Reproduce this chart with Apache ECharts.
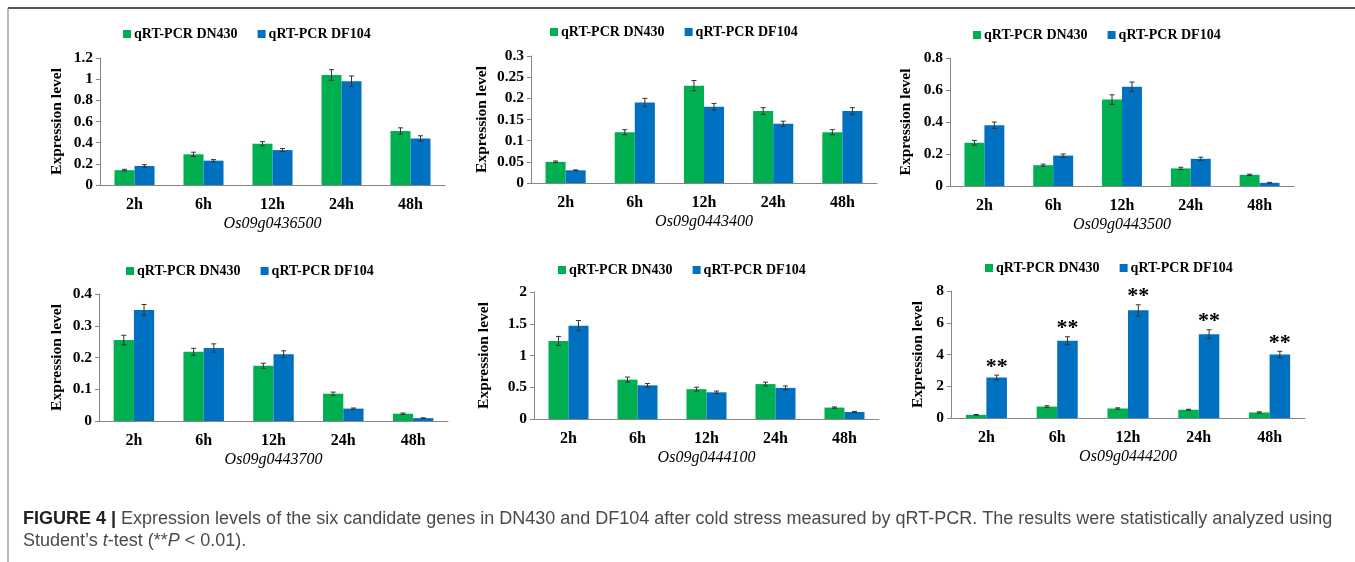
<!DOCTYPE html>
<html>
<head>
<meta charset="utf-8">
<script src="https://cdn.jsdelivr.net/npm/echarts@6/dist/echarts.min.js"></script>
<style>
  html, body { margin: 0; padding: 0; background: #fff; }
  #chart { width: 1355px; height: 562px; }
</style>
</head>
<body>
<div id="chart"></div>
<script>
// categories
const hours = ['2h', '6h', '12h', '24h', '48h'];
const genes = ['Os09g0436500', 'Os09g0443400', 'Os09g0443500', 'Os09g0443700', 'Os09g0444100', 'Os09g0444200'];
const seriesNames = ['qRT-PCR DN430', 'qRT-PCR DF104'];

// mean expression level, one row per gene
const dn430 = [
  [0.14, 0.29, 0.39, 1.04, 0.51],
  [0.05, 0.12, 0.23, 0.17, 0.12],
  [0.27, 0.13, 0.54, 0.11, 0.07],
  [0.255, 0.218, 0.174, 0.086, 0.023],
  [1.23, 0.62, 0.47, 0.55, 0.18],
  [0.2, 0.72, 0.6, 0.52, 0.35]
];
const df104 = [
  [0.18, 0.23, 0.33, 0.98, 0.44],
  [0.03, 0.19, 0.18, 0.14, 0.17],
  [0.38, 0.19, 0.62, 0.17, 0.02],
  [0.35, 0.23, 0.21, 0.039, 0.009],
  [1.47, 0.53, 0.42, 0.49, 0.11],
  [2.55, 4.87, 6.78, 5.28, 4.0]
];
// error bars (+/-)
const dn430Err = [
  [0.008, 0.02, 0.02, 0.05, 0.03],
  [0.002, 0.006, 0.012, 0.008, 0.006],
  [0.015, 0.007, 0.03, 0.007, 0.004],
  [0.015, 0.011, 0.008, 0.005, 0.002],
  [0.07, 0.04, 0.03, 0.03, 0.01],
  [0.02, 0.05, 0.04, 0.03, 0.04]
];
const df104Err = [
  [0.012, 0.01, 0.015, 0.05, 0.025],
  [0.001, 0.01, 0.008, 0.006, 0.008],
  [0.02, 0.01, 0.03, 0.01, 0.003],
  [0.017, 0.013, 0.011, 0.002, 0.001],
  [0.08, 0.03, 0.02, 0.03, 0.01],
  [0.15, 0.25, 0.35, 0.28, 0.2]
];
// significance marks over DF104 (only last gene)
const df104Marks = [
  ['', '', '', '', ''],
  ['', '', '', '', ''],
  ['', '', '', '', ''],
  ['', '', '', '', ''],
  ['', '', '', '', ''],
  ['**', '**', '**', '**', '**']
];
// y axis ticks
const yMax = [1.2, 0.3, 0.8, 0.4, 2, 8];
const yStep = [0.2, 0.05, 0.2, 0.1, 0.5, 2];

// layout: [left, top, width, height] of each plot area
const boxes = [
  [100, 58, 345, 127],
  [531, 56, 346, 127],
  [950, 58, 344, 128],
  [99, 294, 349, 127],
  [534, 292, 345, 127],
  [951, 291, 354, 127]
];
const legendPos = [[123, 27], [550, 25], [973, 28], [126, 264], [558, 263], [985, 261]];
const yNameGap = [35, 41, 36, 34, 42, 25];

const GREEN = '#00B050';
const BLUE = '#0070C0';
const AXIS = '#868686';
const SERIF = 'Liberation Serif';
const BAR_RATIO = 0.29;

function errorBars(side) {
  return function (params, api) {
    const idx = api.value(0);
    const v = api.value(1);
    const e = api.value(2);
    const mark = api.value(3);
    const band = api.size([1, 0])[0];
    const x = api.coord([idx, v])[0] + side * band * BAR_RATIO / 2;
    const yTop = api.coord([idx, v + e])[1];
    const yBot = api.coord([idx, v - e])[1];
    const st = { stroke: '#333', lineWidth: 1 };
    const children = [
      { type: 'line', shape: { x1: x, y1: yTop, x2: x, y2: yBot }, style: st },
      { type: 'line', shape: { x1: x - 2.5, y1: yTop, x2: x + 2.5, y2: yTop }, style: st },
      { type: 'line', shape: { x1: x - 2.5, y1: yBot, x2: x + 2.5, y2: yBot }, style: st }
    ];
    if (mark) {
      children.push({
        type: 'text',
        style: {
          text: mark, x: x, y: yTop + 3, align: 'center', verticalAlign: 'bottom',
          fontFamily: SERIF, fontWeight: 'bold', fontSize: 22, fill: '#000'
        }
      });
    }
    return { type: 'group', children: children };
  };
}

const grid = [], xAxis = [], yAxis = [], legend = [], series = [];
genes.forEach(function (gene, i) {
  const b = boxes[i];
  grid.push({ left: b[0], top: b[1], width: b[2], height: b[3] });
  xAxis.push({
    type: 'category', gridIndex: i, data: hours,
    axisLine: { lineStyle: { color: AXIS, width: 1 } },
    axisTick: { show: false },
    axisLabel: { margin: 12, color: '#000', fontFamily: SERIF, fontWeight: 'bold', fontSize: 16 },
    name: gene, nameLocation: 'middle', nameGap: 31,
    nameTextStyle: { color: '#000', fontFamily: SERIF, fontStyle: 'italic', fontSize: 16 }
  });
  yAxis.push({
    type: 'value', gridIndex: i, min: 0, max: yMax[i], interval: yStep[i],
    axisLine: { show: true, lineStyle: { color: AXIS, width: 1 } },
    axisTick: { show: true, length: 4, lineStyle: { color: AXIS } },
    splitLine: { show: false },
    axisLabel: { margin: 7, color: '#000', fontFamily: SERIF, fontWeight: 'bold', fontSize: 15.5 },
    name: 'Expression level', nameLocation: 'middle', nameGap: yNameGap[i],
    nameTextStyle: { color: '#000', fontFamily: SERIF, fontWeight: 'bold', fontSize: 15.5 }
  });
  legend.push({
    left: legendPos[i][0], top: legendPos[i][1], padding: 0,
    data: seriesNames, icon: 'rect', itemWidth: 8, itemHeight: 8, itemGap: 20,
    selectedMode: false,
    textStyle: { color: '#000', fontFamily: SERIF, fontWeight: 'bold', fontSize: 14, padding: [0, 0, 0, -2] }
  });
  series.push({
    name: seriesNames[0], type: 'bar', xAxisIndex: i, yAxisIndex: i,
    data: dn430[i], barWidth: (BAR_RATIO * 100) + '%', barGap: '0%',
    itemStyle: { color: GREEN }, silent: true
  });
  series.push({
    name: seriesNames[1], type: 'bar', xAxisIndex: i, yAxisIndex: i,
    data: df104[i], barWidth: (BAR_RATIO * 100) + '%', barGap: '0%',
    itemStyle: { color: BLUE }, silent: true
  });
  series.push({
    type: 'custom', xAxisIndex: i, yAxisIndex: i, z: 5, silent: true,
    renderItem: errorBars(-1),
    data: dn430[i].map(function (v, k) { return [k, v, dn430Err[i][k], '']; })
  });
  series.push({
    type: 'custom', xAxisIndex: i, yAxisIndex: i, z: 5, silent: true,
    renderItem: errorBars(1),
    data: df104[i].map(function (v, k) { return [k, v, df104Err[i][k], df104Marks[i][k]]; })
  });
});

const option = {
  animation: false,
  backgroundColor: '#fff',
  grid: grid, xAxis: xAxis, yAxis: yAxis, legend: legend, series: series,
  graphic: [
    { type: 'line', shape: { x1: 8, y1: 8, x2: 1355, y2: 8 }, style: { stroke: '#555', lineWidth: 2 } },
    { type: 'line', shape: { x1: 8, y1: 8, x2: 8, y2: 562 }, style: { stroke: '#777', lineWidth: 1 } },
    {
      type: 'text', left: 23, top: 510,
      style: {
        text: '{b|FIGURE 4 |} Expression levels of the six candidate genes in DN430 and DF104 after cold stress measured by qRT-PCR. The results were statistically analyzed using',
        fontFamily: 'Liberation Sans', fontSize: 18, fill: '#4a4a4a',
        rich: { b: { fontFamily: 'Liberation Sans', fontSize: 18, fontWeight: 'bold', fill: '#222' } }
      }
    },
    {
      type: 'text', left: 23, top: 532,
      style: {
        text: 'Student\u2019s {i|t}-test (**{i|P} < 0.01).',
        fontFamily: 'Liberation Sans', fontSize: 18, fill: '#4a4a4a',
        rich: { i: { fontFamily: 'Liberation Sans', fontSize: 18, fontStyle: 'italic', fill: '#4a4a4a' } }
      }
    }
  ]
};

const chart = echarts.init(document.getElementById('chart'));
chart.setOption(option);
</script>
</body>
</html>
